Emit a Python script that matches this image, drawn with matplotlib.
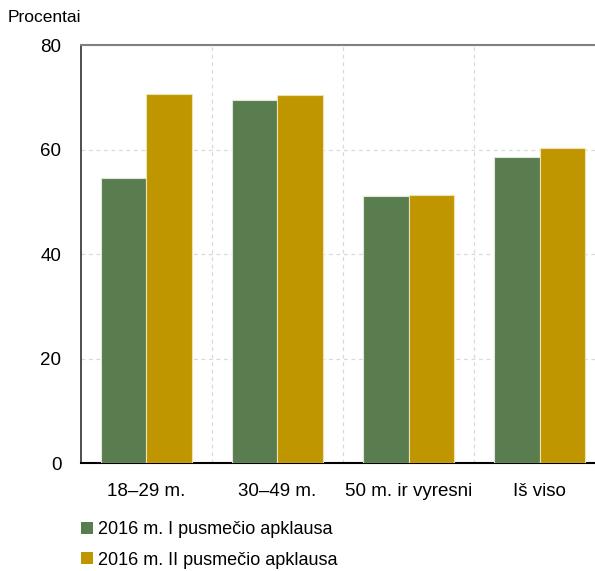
import matplotlib.pyplot as plt
import numpy as np
from matplotlib.patches import Patch

plt.rcParams['font.family'] = ['Liberation Sans', 'DejaVu Sans']

categories = ['18–29 m.', '30–49 m.', '50 m. ir vyresni', 'Iš viso']
first_half = [54.6, 69.5, 51.2, 58.6]
second_half = [70.7, 70.5, 51.4, 60.3]
series_names = ['2016 m. I pusmečio apklausa', '2016 m. II pusmečio apklausa']
y_ticks = [0, 20, 40, 60, 80]

green = '#5a7d50'
gold = '#c09600'

fig = plt.figure(figsize=(5.95, 5.71), dpi=100)
ax = fig.add_axes([0.136, 0.189, 0.881, 0.732])

x = np.arange(len(categories))
width = 0.35
ax.bar(x - width / 2, first_half, width, color=green, edgecolor='#dfe6dc', linewidth=0.8, zorder=3)
ax.bar(x + width / 2, second_half, width, color=gold, edgecolor='#efe2b0', linewidth=0.8, zorder=3)

ax.set_xlim(-0.5, len(categories) - 0.5)
ax.set_ylim(0, 80)
ax.set_yticks(y_ticks)
ax.set_xticks(x)
ax.set_xticklabels(categories)
ax.set_xticks(x[:-1] + 0.5, minor=True)
ax.tick_params(axis='both', which='both', length=0, labelsize=13.5)
ax.tick_params(axis='x', pad=14)
ax.tick_params(axis='y', pad=14)

ax.grid(axis='y', color='#d9d9d9', linestyle=(0, (3, 3)), linewidth=0.9, zorder=0)
ax.grid(axis='x', which='minor', color='#d9d9d9', linestyle=(0, (3, 3)), linewidth=0.9, zorder=0)

ax.spines['left'].set_color('#404040')
ax.spines['left'].set_linewidth(1.3)
ax.spines['bottom'].set_color('black')
ax.spines['bottom'].set_linewidth(1.5)
ax.spines['top'].set_color('#808080')
ax.spines['top'].set_linewidth(1.5)
ax.spines['right'].set_visible(False)

fig.text(8 / 595, 1 - 17 / 571, 'Procentai', fontsize=12.5, ha='left', va='center')

handles = [Patch(facecolor=green), Patch(facecolor=gold)]
fig.legend(handles, series_names, loc='upper left', bbox_to_anchor=(74 / 595, 1 - 514 / 571),
           frameon=False, fontsize=13, handlelength=0.65, handleheight=0.65,
           handletextpad=0.3, labelspacing=0.75, borderaxespad=0)

fig.savefig('out.png', dpi=100)
